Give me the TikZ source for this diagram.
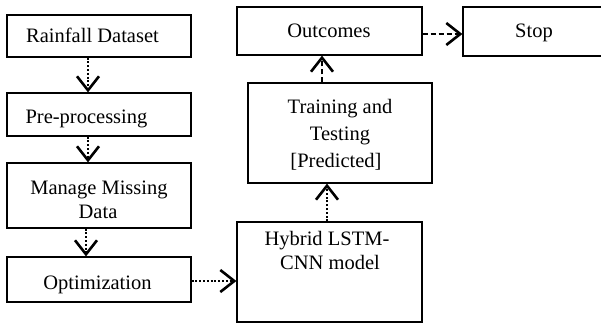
\documentclass[tikz,border=0pt]{standalone}
\usepackage{fontspec}
\setmainfont{Liberation Serif}
\usetikzlibrary{arrows.meta}
\begin{document}
\begin{tikzpicture}[x=1pt,y=-1pt,
  box/.style={draw=black, line width=1.2pt, inner sep=0pt, rectangle},
  lbl/.style={anchor=base, inner sep=0pt, font=\fontsize{20.5}{24}\selectfont},
  vtip/.style={-{Straight Barb[length=14pt,width=22pt,line width=2.6pt]}},
  dotarrow/.style={vtip, line width=2pt, dash pattern=on 2pt off 1.8pt},
  dasharrow/.style={vtip, line width=2.2pt, dash pattern=on 5pt off 3pt}]
\useasboundingbox[fill=white] (0,0) rectangle (601,324);
% boxes
\node[box, minimum width=184pt, minimum height=42pt] (rain) at (99,36) {};
\node[box, minimum width=184pt, minimum height=43pt] (pre) at (99,114.5) {};
\node[box, minimum width=184pt, minimum height=65pt] (manage) at (99,195.5) {};
\node[box, minimum width=184pt, minimum height=45pt] (opt) at (99,279.5) {};
\node[box, minimum width=185pt, minimum height=100pt] (hyb) at (329.5,272) {};
\node[box, minimum width=184pt, minimum height=100pt] (train) at (340,133) {};
\node[box, minimum width=185pt, minimum height=48pt] (out) at (329.5,31) {};
\node[box, minimum width=142pt, minimum height=49pt] (stop) at (534,31.5) {};
% texts
\node[lbl] (train0) at (92.5,42.5) {Rainfall Dataset};
\node[lbl] (tpre) at (86.5,123) {Pre-processing};
\node[lbl] (tman1) at (99,194) {Manage Missing};
\node[lbl] (tman2) at (98,218.5) {Data};
\node[lbl] (topt) at (97.5,289) {Optimization};
\node[lbl] (thyb1) at (327,245) {Hybrid LSTM-};
\node[lbl] (thyb2) at (330,269) {CNN model};
\node[lbl] (ttr1) at (340,113) {Training and};
\node[lbl] (ttr2) at (340,140) {Testing};
\node[lbl] (ttr3) at (336,167) {[Predicted]};
\node[lbl] (tout) at (329,37) {Outcomes};
\node[lbl] (tstop) at (534,37) {Stop};
% connectors
\draw[dotarrow] ([xshift=-11pt]rain.south) -- ([xshift=-11pt]rain.south |- pre.north);
\draw[dotarrow] ([xshift=-11pt]pre.south) -- ([xshift=-11pt]pre.south |- manage.north);
\draw[dotarrow] ([xshift=-13pt]manage.south) -- ([xshift=-13pt]manage.south |- opt.north);
\draw[dotarrow] ([yshift=-1.5pt]opt.east) -- ([yshift=-1.5pt]opt.east -| hyb.west);
\draw[dotarrow] ([xshift=-2.5pt]hyb.north) -- ([xshift=-2.5pt]hyb.north |- train.south);
\draw[dasharrow] ([xshift=-18pt]train.north) -- ([xshift=-18pt]train.north |- out.south);
\draw[dasharrow] ([yshift=-3pt]out.east) -- ([yshift=-3pt]out.east -| stop.west);
\end{tikzpicture}
\end{document}
